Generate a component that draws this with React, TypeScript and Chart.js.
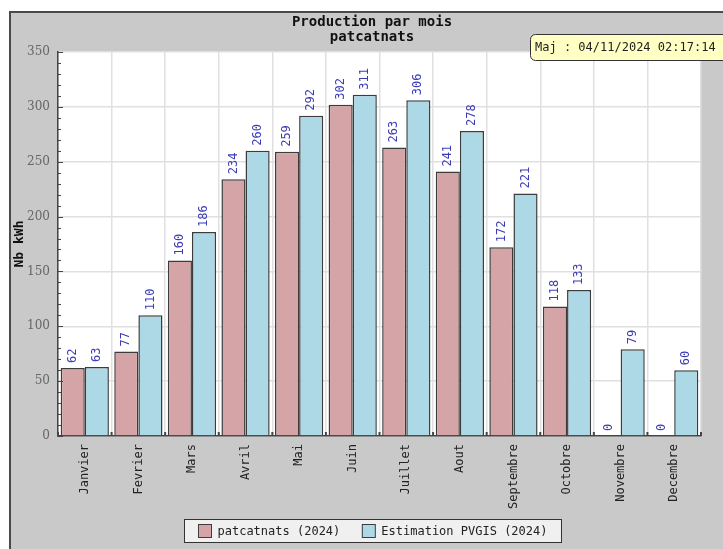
import React, { useEffect, useRef } from "react";
import { Chart, registerables } from "chart.js";

Chart.register(...registerables);

const categories = ["Janvier", "Fevrier", "Mars", "Avril", "Mai", "Juin", "Juillet", "Aout", "Septembre", "Octobre", "Novembre", "Decembre"];
const production = [62, 77, 160, 234, 259, 302, 263, 241, 172, 118, 0, 0];
const estimation = [63, 110, 186, 260, 292, 311, 306, 278, 221, 133, 79, 60];
const seriesLabels = ["patcatnats (2024)", "Estimation PVGIS (2024)"];
const titleLines = ["Production par mois", "patcatnats"];
const updateText = "Maj : 04/11/2024 02:17:14";
const yAxisTitle = "Nb kWh";
const yMax = 350;
const yMajorStep = 50;
const yMinorStep = 10;

const PINK = "#d4a4a6";
const BLUE = "#add8e6";
const EDGE = "#3c3c3c";
const MONO = "'DejaVu Sans Mono', monospace";

const decorPlugin = {
  id: "decor",
  beforeDraw(chart: any) {
    const { ctx, width, height, chartArea } = chart;
    ctx.save();
    ctx.fillStyle = "#ffffff";
    ctx.fillRect(0, 0, width, height);
    ctx.fillStyle = "#c9c9c9";
    ctx.fillRect(9, 11, width - 9, height - 11);
    ctx.strokeStyle = "#4a4a4a";
    ctx.lineWidth = 2;
    ctx.beginPath();
    ctx.moveTo(10, height);
    ctx.lineTo(10, 12);
    ctx.lineTo(width, 12);
    ctx.stroke();
    ctx.fillStyle = "#ffffff";
    ctx.fillRect(chartArea.left, chartArea.top, chartArea.right - chartArea.left, chartArea.bottom - chartArea.top);
    ctx.restore();
  },
  afterDatasetsDraw(chart: any) {
    const { ctx, chartArea } = chart;
    const y = chart.scales.y;
    const x = chart.scales.x;
    ctx.save();
    // minor / major ticks on y axis (inside)
    ctx.strokeStyle = "#444";
    ctx.lineWidth = 1;
    for (let v = 0; v <= yMax; v += yMinorStep) {
      const py = Math.round(y.getPixelForValue(v)) + 0.5;
      const len = v % yMajorStep === 0 ? 5 : 3;
      ctx.beginPath();
      ctx.moveTo(chartArea.left, py);
      ctx.lineTo(chartArea.left + len, py);
      ctx.stroke();
    }
    // x ticks at category boundaries (inside)
    const step = x.getPixelForValue(1) - x.getPixelForValue(0);
    ctx.lineWidth = 2;
    for (let i = 0; i <= categories.length; i++) {
      const px = x.getPixelForValue(i) - step / 2;
      ctx.beginPath();
      ctx.moveTo(px, chartArea.bottom);
      ctx.lineTo(px, chartArea.bottom - 4);
      ctx.stroke();
    }
    // value labels
    ctx.fillStyle = "#3b3bb6";
    ctx.font = `12px ${MONO}`;
    ctx.textAlign = "left";
    ctx.textBaseline = "middle";
    chart.data.datasets.forEach((ds: any, di: number) => {
      const meta = chart.getDatasetMeta(di);
      meta.data.forEach((el: any, i: number) => {
        ctx.save();
        ctx.translate(el.x, el.y - 5);
        ctx.rotate(-Math.PI / 2);
        ctx.fillText(String(ds.data[i]), 0, 0);
        ctx.restore();
      });
    });
    ctx.restore();
  },
  afterDraw(chart: any) {
    const { ctx, chartArea } = chart;
    const cx = 372;
    ctx.save();
    // title
    ctx.fillStyle = "#111";
    ctx.font = `bold 14px ${MONO}`;
    ctx.textAlign = "center";
    ctx.textBaseline = "middle";
    titleLines.forEach((t, i) => ctx.fillText(t, cx, 22 + i * 15));

    // update box
    ctx.fillStyle = "#ffffc4";
    ctx.strokeStyle = "#333";
    ctx.lineWidth = 1;
    ctx.beginPath();
    (ctx as any).roundRect(530.5, 34.5, 210, 26, 5);
    ctx.fill();
    ctx.stroke();
    ctx.fillStyle = "#222";
    ctx.font = `12px ${MONO}`;
    ctx.textAlign = "left";
    ctx.fillText(updateText, 535, 48);

    // legend
    ctx.font = `12px ${MONO}`;
    const sq = 13;
    const gapText = 6;
    const gapItem = 22;
    const w0 = ctx.measureText(seriesLabels[0]).width;
    const w1 = ctx.measureText(seriesLabels[1]).width;
    const content = sq + gapText + w0 + gapItem + sq + gapText + w1;
    const pad = 14;
    const boxW = content + pad * 2;
    const boxL = Math.round(cx - boxW / 2) + 0.5;
    const boxT = 519.5;
    const boxH = 23;
    ctx.fillStyle = "#f0f0f0";
    ctx.strokeStyle = "#333";
    ctx.fillRect(boxL, boxT, boxW, boxH);
    ctx.strokeRect(boxL, boxT, boxW, boxH);
    const midY = boxT + boxH / 2;
    const colors = [PINK, BLUE];
    let px = boxL + pad;
    [w0, w1].forEach((w, i) => {
      ctx.fillStyle = colors[i];
      ctx.fillRect(px, midY - sq / 2, sq, sq);
      ctx.strokeStyle = EDGE;
      ctx.strokeRect(px, midY - sq / 2, sq, sq);
      ctx.fillStyle = "#222";
      ctx.fillText(seriesLabels[i], px + sq + gapText, midY + 1);
      px += sq + gapText + w + gapItem;
    });
    ctx.restore();
  },
};

export default function App() {
  const ref = useRef<HTMLCanvasElement>(null);
  useEffect(() => {
    if (!ref.current) return;
    Chart.defaults.font.family = MONO;
    const chart = new Chart(ref.current, {
      type: "bar",
      data: {
        labels: categories,
        datasets: [
          { label: seriesLabels[0], data: production, backgroundColor: PINK, borderColor: EDGE, borderWidth: 1.5, categoryPercentage: 0.9, barPercentage: 1.0 },
          { label: seriesLabels[1], data: estimation, backgroundColor: BLUE, borderColor: EDGE, borderWidth: 1.5, categoryPercentage: 0.9, barPercentage: 1.0 },
        ],
      },
      options: {
        responsive: false,
        animation: false,
        events: [],
        layout: { padding: { top: 52, right: 22, left: 0, bottom: 0 } },
        plugins: { legend: { display: false }, title: { display: false }, tooltip: { enabled: false } },
        scales: {
          x: {
            grid: { color: "#e0e0e0", lineWidth: 1.5, drawTicks: false, offset: true },
            border: { display: true, color: "#444", width: 1.5 },
            ticks: { color: "#222", font: { size: 12, family: MONO }, minRotation: 90, maxRotation: 90, padding: 8, autoSkip: false },
            afterFit: (s: any) => { s.height = 113; },
          },
          y: {
            min: 0,
            max: yMax,
            grid: { color: "#e0e0e0", lineWidth: 1.5, drawTicks: false },
            border: { display: true, color: "#444", width: 1.5 },
            ticks: { stepSize: yMajorStep, color: "#666", font: { size: 12, family: "'DejaVu Serif', serif" }, padding: 8 },
            title: { display: true, text: yAxisTitle, color: "#111", font: { size: 13, weight: "bold", family: MONO }, padding: { top: 12, bottom: 0 } },
            afterFit: (s: any) => { s.width = 58; },
          },
        },
      },
      plugins: [decorPlugin],
    });
    return () => chart.destroy();
  }, []);
  return (
    <div style={{ position: "fixed", left: 0, top: 0, width: 723, height: 549 }}>
      <canvas ref={ref} width={723} height={549} style={{ display: "block" }} />
    </div>
  );
}
